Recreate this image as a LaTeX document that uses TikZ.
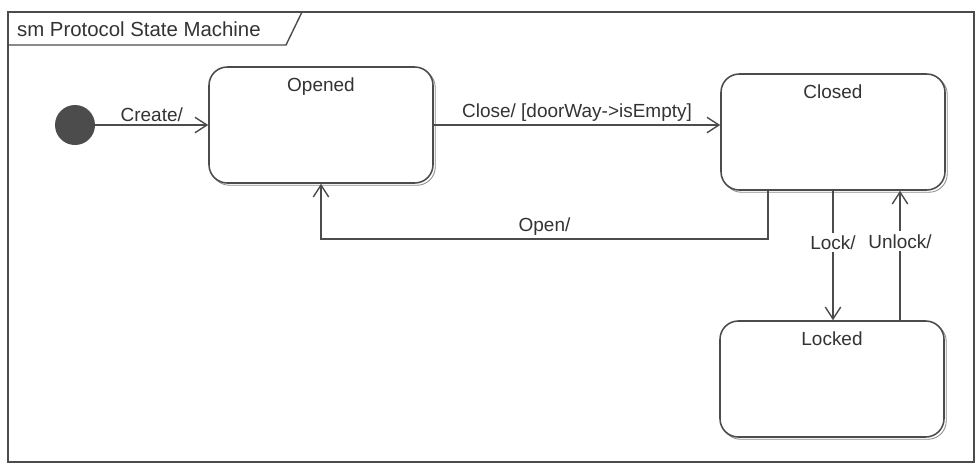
\documentclass[tikz,border=0pt]{standalone}
\usepackage{fontspec}
\setmainfont{Liberation Sans}
\usetikzlibrary{arrows.meta,shadows,calc}
\tikzset{
  statebox/.style={draw=black!70, line width=1.1pt, rounded corners=13pt, fill=white,
    minimum width=56mm, minimum height=29mm,
    general shadow={draw=black!45, line width=0.6pt, fill=white, shadow xshift=1.6pt, shadow yshift=-1.6pt}},
  statename/.style={font=\fontsize{13.5}{16}\selectfont, text=black!80},
  trans/.style={draw=black!70, line width=1.1pt, -{Straight Barb[length=8.5pt,width=11pt,line width=1pt]}},
  lbl/.style={font=\fontsize{13.5}{16}\selectfont, text=black!80, inner sep=2pt},
  startdot/.style={circle, fill=black!70, minimum size=10mm, inner sep=0pt},
  frame/.style={draw=black!70, line width=1pt}
}
\begin{document}
\begin{tikzpicture}[x=0.25mm,y=-0.25mm]
\useasboundingbox (0,0) rectangle (977,469);
% frame with its name tab
\draw[frame] (8,12) rectangle (974,462);
\node[lbl, anchor=west, font=\fontsize{14.5}{17}\selectfont] (title) at (14,29) {sm Protocol State Machine};
\draw[frame] (8,45) -- (286,45) -- (302,12);
% states
\node[startdot] (init) at (75,125) {};
\node[statebox, label={[statename, anchor=north, yshift=-5pt]north:Opened}] (opened) at (321,125) {};
\node[statebox, label={[statename, anchor=north, yshift=-5pt]north:Closed}] (closed) at (833,132) {};
\node[statebox, label={[statename, anchor=north, yshift=-5pt]north:Locked}] (locked) at (832,379) {};
% transitions
\draw[trans] (init) -- node[lbl, above] {Create/} (opened.west);
\draw[trans] (opened.east) -- node[lbl, above] {Close/ [doorWay->isEmpty]} (closed.west |- opened.east);
\draw[trans] ([xshift=-16.25mm]closed.south) -- ++(0,48) coordinate (openturn) -| (opened.south);
\node[lbl, above] (openlbl) at ($(openturn)!0.5!(opened.south |- openturn)$) {Open/};
\draw[trans] (closed.south) -- node[lbl, fill=white, pos=0.4] {Lock/} (closed.south |- locked.north);
\draw[trans] ([xshift=17mm]locked.north) -- node[lbl, fill=white, pos=0.61] {Unlock/} ([xshift=17mm]locked.north |- closed.south);
\end{tikzpicture}
\end{document}
